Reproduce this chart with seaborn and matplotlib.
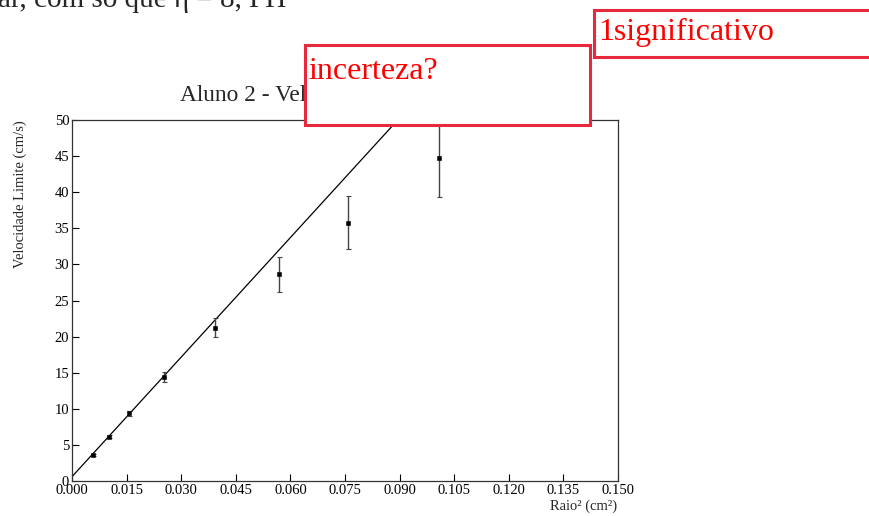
import numpy as np
import pandas as pd
import matplotlib
matplotlib.use("Agg")
import matplotlib.pyplot as plt
from matplotlib.patches import Rectangle
import seaborn as sns

# ---- data ----
raio2 = [0.00586, 0.01016, 0.01575, 0.02537, 0.0393, 0.05696, 0.07582, 0.10073]
velocidade = [3.6, 6.14, 9.37, 14.45, 21.24, 28.63, 35.78, 44.78]
incerteza = [0.2, 0.25, 0.3, 0.7, 1.3, 2.45, 3.64, 5.5]
fit_intercept = 0.6
fit_slope = 552.0
x_ticks = [0.000, 0.015, 0.030, 0.045, 0.060, 0.075, 0.090, 0.105, 0.120, 0.135, 0.150]
y_ticks = [0, 5, 10, 15, 20, 25, 30, 35, 40, 45, 50]

title = "Aluno 2 - Velocidade Limite x Raio²"
xlabel = "Raio² (cm²)"
ylabel = "Velocidade Limite (cm/s)"
doc_text = "ar, com só que η = 8, PH"
note1 = "incerteza?"
note2 = "1significativo"

df = pd.DataFrame({"raio2": raio2, "v": velocidade, "err": incerteza})
fit_df = pd.DataFrame({"x": [x_ticks[0], x_ticks[-1]]})
fit_df["y"] = fit_intercept + fit_slope * fit_df["x"]

sns.set_style("ticks")
plt.rcParams["font.family"] = ["Liberation Serif", "DejaVu Serif"]
plt.rcParams["xtick.direction"] = "in"
plt.rcParams["ytick.direction"] = "in"

W, H = 870, 516
fig = plt.figure(figsize=(W / 100, H / 100), dpi=100)
ax = fig.add_axes([72 / W, 1 - 481 / H, (618 - 72) / W, (481 - 120) / H])

sns.lineplot(data=fit_df, x="x", y="y", ax=ax, color="black", linewidth=0.9)
ax.errorbar(df["raio2"], df["v"], yerr=df["err"], fmt="none", ecolor="#444444",
            elinewidth=1.0, capsize=1.8, capthick=0.8)
sns.scatterplot(data=df, x="raio2", y="v", ax=ax, marker="s", s=5, color="black",
                edgecolor="black", linewidth=0.4, zorder=5)

ax.set_xlim(x_ticks[0], x_ticks[-1])
ax.set_ylim(y_ticks[0], y_ticks[-1])
ax.set_xticks(x_ticks)
ax.set_xticklabels([f"{t:.3f}" for t in x_ticks], fontsize=10.5)
ax.set_yticks(y_ticks)
ax.set_yticklabels([str(t) for t in y_ticks], fontsize=10.5)
ax.tick_params(axis="both", direction="in", length=5, width=0.8, colors="black", pad=2)
ax.set_xlabel("")
ax.set_ylabel("")
for s in ax.spines.values():
    s.set_color("#333333")
    s.set_linewidth(0.9)
    s.set_visible(True)

# labels and title
fig.text(617 / W, 1 - 510 / H, xlabel, ha="right", va="baseline", fontsize=10.5)
fig.text(20 / W, 1 - 120 / H, ylabel, ha="center", va="top", rotation=90, fontsize=10.5)
fig.text(180 / W, 1 - 101 / H, title, ha="left", va="baseline", fontsize=16.8)

# clipped document text at top
fig.text(-2 / W, 1 - 7 / H, doc_text, ha="left", va="baseline", fontsize=21)

# red annotation boxes
red_edge = "#e8283c"
for (x0, y0, x1, y1) in [(305, 45, 590, 125), (594, 10, 872, 57)]:
    fig.patches.append(Rectangle((x0 / W, 1 - y1 / H), (x1 - x0) / W, (y1 - y0) / H,
                                 transform=fig.transFigure, facecolor="white",
                                 edgecolor=red_edge, linewidth=2.2, zorder=10))
fig.text(308 / W, 1 - 79 / H, note1, ha="left", va="baseline", fontsize=23,
         color="#ff0000", zorder=11)
fig.text(598 / W, 1 - 40 / H, note2, ha="left", va="baseline", fontsize=23,
         color="#ff0000", zorder=11)

fig.savefig("out.png", dpi=100)
